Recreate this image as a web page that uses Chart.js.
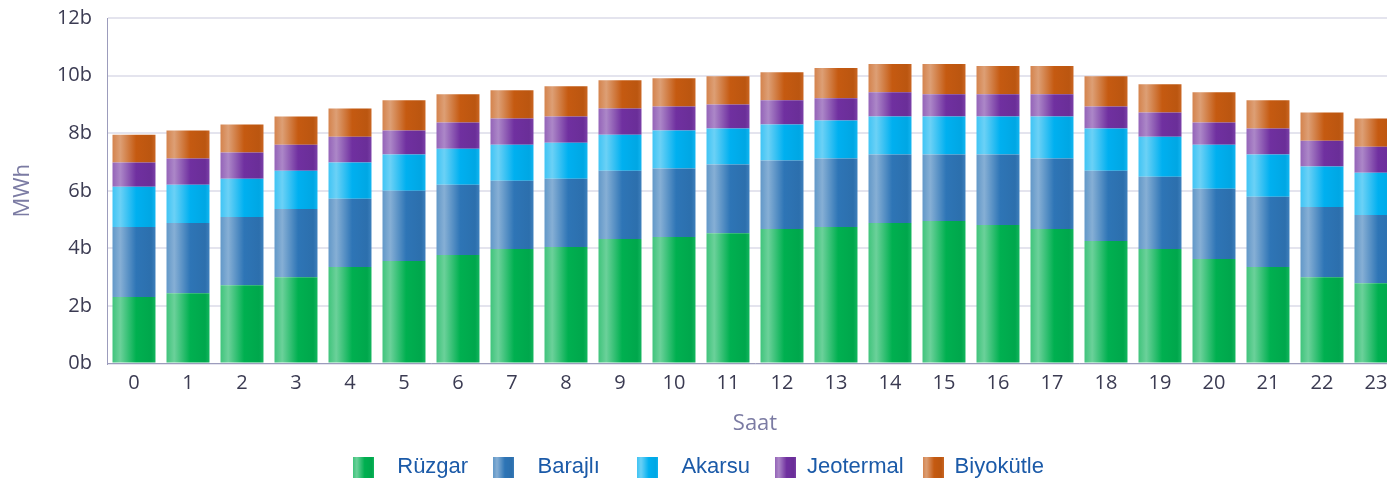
<!DOCTYPE html>
<html>
<head>
<meta charset="utf-8">
<script src="https://cdn.jsdelivr.net/npm/chart.js@4.4.0/dist/chart.umd.min.js"></script>
<style>
  html, body { margin: 0; padding: 0; background: #fff; }
  #wrap { width: 1387px; height: 479px; overflow: hidden; }
</style>
</head>
<body>
<div id="wrap"><canvas id="energy-chart" width="1403" height="479"></canvas></div>
<script>
// hourly generation, values in billions (b)
var hours = ['0', '1', '2', '3', '4', '5', '6', '7', '8', '9', '10', '11', '12', '13', '14', '15', '16', '17', '18', '19', '20', '21', '22', '23'];
var seriesNames = ['Rüzgar', 'Barajlı', 'Akarsu', 'Jeotermal', 'Biyokütle'];
var seriesColors = ['#00b050', '#2e75b6', '#00b0f0', '#7030a0', '#c55a11'];

var ruzgar = [2.31, 2.44, 2.72, 3.00, 3.35, 3.56, 3.77, 3.98, 4.05, 4.33, 4.40, 4.53, 4.67, 4.74, 4.88, 4.95, 4.81, 4.67, 4.26, 3.98, 3.63, 3.35, 3.00, 2.79];
var barajli = [2.43, 2.44, 2.37, 2.37, 2.37, 2.44, 2.44, 2.37, 2.37, 2.37, 2.37, 2.38, 2.38, 2.38, 2.38, 2.31, 2.45, 2.45, 2.44, 2.51, 2.44, 2.44, 2.44, 2.37];
var akarsu = [1.40, 1.33, 1.33, 1.33, 1.26, 1.26, 1.25, 1.25, 1.25, 1.25, 1.32, 1.25, 1.25, 1.32, 1.32, 1.32, 1.32, 1.46, 1.46, 1.39, 1.53, 1.47, 1.40, 1.47];
var jeotermal = [0.84, 0.91, 0.91, 0.90, 0.90, 0.83, 0.91, 0.91, 0.91, 0.91, 0.84, 0.84, 0.84, 0.77, 0.84, 0.77, 0.77, 0.77, 0.77, 0.84, 0.77, 0.90, 0.90, 0.90];
var biyokutle = [0.97, 0.97, 0.97, 0.98, 0.98, 1.05, 0.98, 0.98, 1.05, 0.98, 0.98, 0.98, 0.98, 1.05, 0.98, 1.05, 0.98, 0.98, 1.05, 0.98, 1.05, 0.98, 0.98, 0.98];
var seriesValues = [ruzgar, barajli, akarsu, jeotermal, biyokutle];

var yMax = 12;
var yStep = 2;
var barPct = 0.796;

function hexToRgb(hex) {
  var n = parseInt(hex.slice(1), 16);
  return [(n >> 16) & 255, (n >> 8) & 255, n & 255];
}
// t > 0 lightens toward white, t < 0 darkens toward black
function tint(hex, t) {
  var c = hexToRgb(hex).map(function (v) {
    return Math.round(t >= 0 ? v + (255 - v) * t : v * (1 + t));
  });
  return 'rgb(' + c.join(',') + ')';
}
function barGradient(ctx, x0, x1, hex) {
  var g = ctx.createLinearGradient(x0, 0, x1, 0);
  g.addColorStop(0, tint(hex, 0.25));
  g.addColorStop(0.18, tint(hex, 0.42));
  g.addColorStop(0.55, hex);
  g.addColorStop(0.9, tint(hex, -0.05));
  g.addColorStop(1, tint(hex, 0.08));
  return g;
}

// small gradient squares for the legend
var legendIcons = seriesColors.map(function (hex) {
  var c = document.createElement('canvas');
  c.width = 21;
  c.height = 21;
  var cx = c.getContext('2d');
  cx.fillStyle = barGradient(cx, 0, 21, hex);
  cx.fillRect(0, 0, 21, 21);
  return c;
});
var legendPad = [['  ', ' '], ['  ', '   '], ['  ', ' '], ['', ''], ['', ' ']];

var datasets = seriesNames.map(function (name, i) {
  var color = seriesColors[i];
  return {
    label: name,
    data: seriesValues[i],
    borderWidth: 0,
    backgroundColor: function (c) {
      var xs = c.chart.scales.x;
      if (c.type !== 'data' || !xs) return color;
      var cx = xs.getPixelForValue(c.dataIndex);
      var half = xs.width / hours.length * barPct / 2;
      return barGradient(c.chart.ctx, cx - half, cx + half, color);
    }
  };
});

var energyChart = new Chart(document.getElementById('energy-chart').getContext('2d'), {
  type: 'bar',
  data: {
    labels: hours,
    datasets: datasets
  },
  options: {
    responsive: false,
    animation: false,
    layout: {
      padding: { top: 18, right: 0, bottom: -9, left: 0 }
    },
    datasets: {
      bar: { barPercentage: barPct, categoryPercentage: 1 }
    },
    plugins: {
      tooltip: { enabled: false },
      legend: {
        position: 'bottom',
        labels: {
          usePointStyle: true,
          pointStyleWidth: 21,
          boxHeight: 21,
          padding: 19,
          color: '#1b5aa8',
          font: { family: 'Liberation Sans', size: 22 },
          generateLabels: function (chart) {
            return chart.data.datasets.map(function (ds, i) {
              return {
                text: legendPad[i][0] + ds.label + legendPad[i][1],
                fillStyle: seriesColors[i],
                strokeStyle: 'rgba(0,0,0,0)',
                lineWidth: 0,
                pointStyle: legendIcons[i],
                fontColor: '#1b5aa8',
                hidden: false,
                datasetIndex: i
              };
            });
          }
        }
      }
    },
    scales: {
      x: {
        stacked: true,
        grid: { display: false, drawTicks: false },
        border: { color: '#9c9cbc', width: 1 },
        ticks: {
          padding: 8,
          color: '#3b3b52',
          font: { family: 'Open Sans', size: 20 }
        },
        title: {
          display: true,
          text: 'Saat',
          color: '#7b7ba3',
          padding: { top: 7, bottom: 0 },
          font: { family: 'Open Sans', size: 22 }
        }
      },
      y: {
        stacked: true,
        min: 0,
        max: yMax,
        afterFit: function (scale) { scale.width = 107; },
        grid: { color: '#e4e4ee', lineWidth: 2, drawTicks: true, tickLength: 15, tickColor: 'rgba(0,0,0,0)' },
        border: { color: '#9c9cbc', width: 1 },
        ticks: {
          stepSize: yStep,
          padding: 0,
          color: '#3b3b52',
          font: { family: 'Open Sans', size: 20 },
          callback: function (v) { return v + 'b'; }
        },
        title: {
          display: true,
          text: 'MWh',
          color: '#7b7ba3',
          padding: { top: 10, bottom: 0 },
          font: { family: 'Open Sans', size: 22 }
        }
      }
    }
  }
});
</script>
</body>
</html>
